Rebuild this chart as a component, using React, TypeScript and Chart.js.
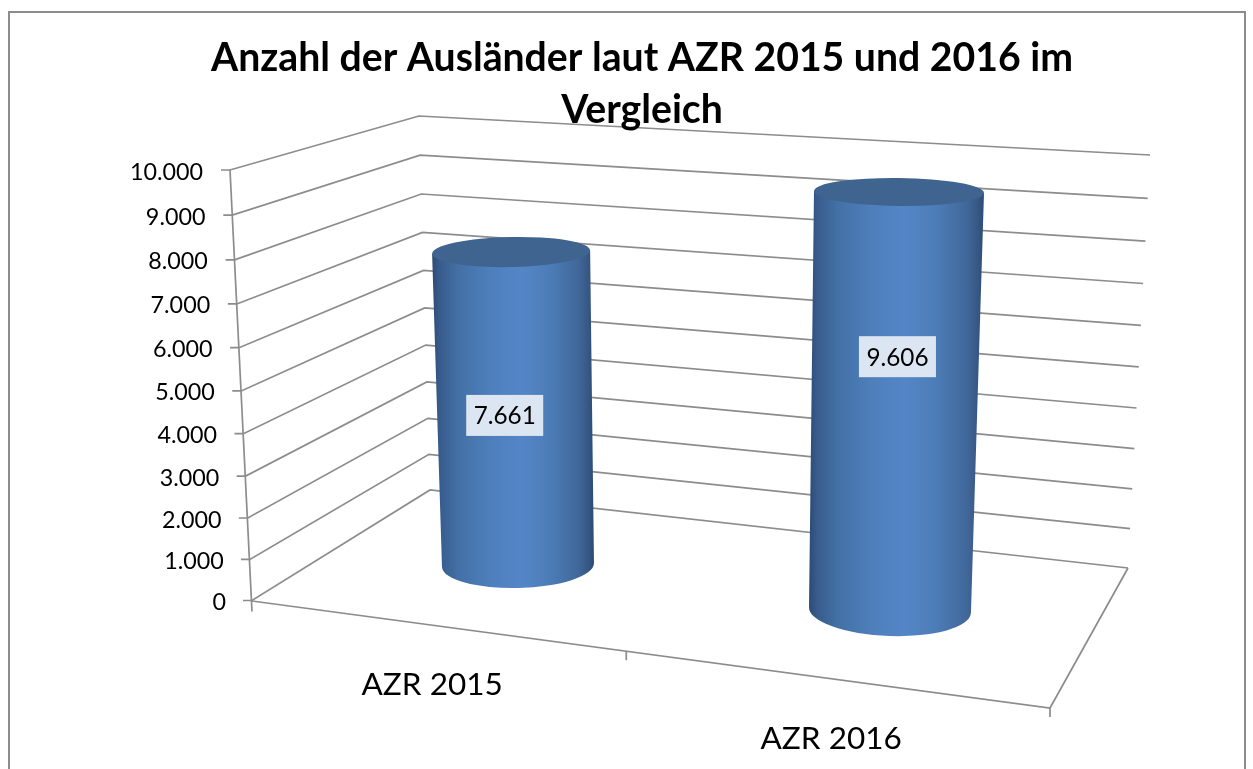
import React, { useEffect, useRef } from "react";
import { Chart, registerables } from "chart.js";

Chart.register(...registerables);

// ---- data ----
const categories = ["AZR 2015", "AZR 2016"];
const values = [7661, 9606];
const axisMax = 10000;
const axisStep = 1000;
const titleLines = ["Anzahl der Ausländer laut AZR 2015 und 2016 im", "Vergleich"];

// ---- 3D look of the box: corners of the floor and walls ----
const LINE = "#8c8c8c";
const FONT = "Lato, Carlito, sans-serif";
const WALL = {
  front: [[252, 600.5], [230, 170]],
  backLeft: [[430, 490], [419, 116]],
  backRight: [[1128, 568], [1150, 155]],
  floorFront: [[252, 601], [1050, 708]],
};
const PERSPECTIVE = -0.0514;
const FRONT_TICKS = [0, 0.469, 1];
const CYL = [
  { depthY: -35, heightK: 0.95, leanK: 0.022, rxBase: 76, rxTop: 79, ryBase: 23, ryTop: 15, tiltBase: -0.025, tiltTop: -0.02, labelFrac: 0.478, labelDx: -10 },
  { depthY: 10, heightK: 1.012, leanK: 0.0215, rxBase: 81, rxTop: 85, ryBase: 26, ryTop: 14, tiltBase: 0.035, tiltTop: 0.012, labelFrac: 0.606, labelDx: 2 },
];

const lerp = (a: number, b: number, t: number) => a + (b - a) * t;
const lerpP = (a: number[], b: number[], t: number) => [lerp(a[0], b[0], t), lerp(a[1], b[1], t)];
// the scale's linear fraction, seen through the chart's perspective
const warp = (t: number) => (t * (1 + PERSPECTIVE)) / (1 + PERSPECTIVE * t);

function seg(ctx: CanvasRenderingContext2D, pts: number[][]) {
  ctx.beginPath();
  pts.forEach((p, i) => (i ? ctx.lineTo(p[0], p[1]) : ctx.moveTo(p[0], p[1])));
  ctx.stroke();
}

const boxPlugin = {
  id: "box3d",
  beforeDraw(chart: any) {
    const { ctx, scales, width, height } = chart;
    const y = scales.y;
    ctx.save();
    ctx.fillStyle = "#ffffff";
    ctx.fillRect(0, 0, width, height);
    ctx.strokeStyle = LINE;
    ctx.lineWidth = 2;
    ctx.beginPath();
    ctx.moveTo(9, height);
    ctx.lineTo(9, 12);
    ctx.lineTo(1245, 12);
    ctx.lineTo(1245, height);
    ctx.stroke();

    ctx.lineWidth = 1.7;
    y.ticks.forEach((tick: any) => {
      const t = warp((y.getPixelForValue(tick.value) - y.bottom) / (y.top - y.bottom));
      const f = lerpP(WALL.front[0], WALL.front[1], t);
      seg(ctx, [
        [f[0] - 9, f[1]],
        f,
        lerpP(WALL.backLeft[0], WALL.backLeft[1], t),
        lerpP(WALL.backRight[0], WALL.backRight[1], t),
      ]);
    });
    // vertical axis, floor and category ticks
    seg(ctx, [WALL.front[1], [WALL.front[0][0], WALL.front[0][1] + 11]]);
    seg(ctx, [WALL.floorFront[0], WALL.floorFront[1], WALL.backRight[0]]);
    FRONT_TICKS.slice(1).forEach((u) => {
      const p = lerpP(WALL.floorFront[0], WALL.floorFront[1], u);
      seg(ctx, [p, [p[0], p[1] + 9]]);
    });
    ctx.restore();
  },
  afterDatasetsDraw(chart: any) {
    const { ctx, scales } = chart;
    const { x, y } = scales;
    const vals = chart.data.datasets[0].data as number[];
    const zero = y.getPixelForValue(0);
    ctx.save();

    vals.forEach((v, i) => {
      const c = CYL[i];
      const h = (zero - y.getPixelForValue(v)) * c.heightK;
      const bx = x.getPixelForValue(i);
      const by = zero + c.depthY;
      const tx = bx + h * c.leanK * (i === 0 ? -1 : 1);
      const ty = by - h;
      const left = Math.min(bx - c.rxBase, tx - c.rxTop);
      const right = Math.max(bx + c.rxBase, tx + c.rxTop);
      const g = ctx.createLinearGradient(left, 0, right, 0);
      g.addColorStop(0, "#2c4a72");
      g.addColorStop(0.04, "#375a8a");
      g.addColorStop(0.16, "#4370a5");
      g.addColorStop(0.36, "#4e7fbc");
      g.addColorStop(0.55, "#5486c7");
      g.addColorStop(0.72, "#4d7db8");
      g.addColorStop(0.9, "#41689b");
      g.addColorStop(0.97, "#355682");
      g.addColorStop(1, "#2c4a72");

      ctx.beginPath();
      ctx.moveTo(tx - c.rxTop, ty - c.rxTop * c.tiltTop);
      ctx.lineTo(bx - c.rxBase, by - c.rxBase * c.tiltBase);
      ctx.ellipse(bx, by, c.rxBase, c.ryBase, c.tiltBase, Math.PI, 0, true);
      ctx.lineTo(tx + c.rxTop, ty + c.rxTop * c.tiltTop);
      ctx.closePath();
      ctx.fillStyle = g;
      ctx.fill();

      ctx.beginPath();
      ctx.ellipse(tx, ty, c.rxTop, c.ryTop, c.tiltTop, 0, Math.PI * 2);
      ctx.fillStyle = "#3f648f";
      ctx.fill();

      // value label
      const label = String(v.toLocaleString("de-DE"));
      const lx = lerp(bx, tx, c.labelFrac) + c.labelDx;
      const ly = by - h * c.labelFrac;
      ctx.fillStyle = "#dce6f2";
      ctx.fillRect(lx - 38.5, ly - 20.5, 77, 41);
      ctx.fillStyle = "#000000";
      ctx.font = `24.3px ${FONT}`;
      ctx.textAlign = "center";
      ctx.textBaseline = "middle";
      ctx.fillText(label, lx, ly + 1);
    });

    // value axis labels follow the slanted axis
    ctx.fillStyle = "#000000";
    ctx.font = `23.3px ${FONT}`;
    ctx.textAlign = "right";
    ctx.textBaseline = "middle";
    y.ticks.forEach((tick: any) => {
      const t = warp((y.getPixelForValue(tick.value) - y.bottom) / (y.top - y.bottom));
      const f = lerpP(WALL.front[0], WALL.front[1], t);
      ctx.fillText(tick.label, lerp(226, 203, t), f[1] + 2);
    });

    // category labels sit under the middle of each section of the floor edge
    ctx.font = `31.5px ${FONT}`;
    ctx.textAlign = "center";
    categories.forEach((_, i) => {
      const u = (FRONT_TICKS[i] + FRONT_TICKS[i + 1]) / 2;
      const p = lerpP(WALL.floorFront[0], WALL.floorFront[1], u);
      ctx.fillText(x.getLabelForValue(i), p[0] - 7, p[1] + 59);
    });
    ctx.restore();
  },
};

export default function App() {
  const ref = useRef<HTMLCanvasElement>(null);
  useEffect(() => {
    const chart = new Chart(ref.current as HTMLCanvasElement, {
      type: "bar",
      data: {
        labels: categories,
        datasets: [{ label: "Anzahl", data: values, backgroundColor: "rgba(0,0,0,0)", borderWidth: 0 }],
      },
      options: {
        responsive: false,
        animation: false,
        layout: { padding: { left: 208, right: 177, top: 0, bottom: 169 } },
        plugins: {
          legend: { display: false },
          tooltip: { enabled: false },
          title: {
            display: true,
            text: titleLines,
            color: "#000000",
            font: { family: FONT, size: 39.2, weight: "bold", lineHeight: 52 / 39.2 },
            padding: { top: 32, bottom: 34 },
          },
        },
        scales: {
          x: { display: false },
          y: {
            min: 0,
            max: axisMax,
            grid: { display: false },
            border: { display: false },
            ticks: {
              display: false,
              stepSize: axisStep,
              callback: (v: any) => Number(v).toLocaleString("de-DE"),
            },
            afterFit: (s: any) => {
              s.width = 124;
            },
          },
        },
      },
      plugins: [boxPlugin],
    } as any);
    return () => chart.destroy();
  }, []);
  return (
    <canvas
      ref={ref}
      width={1253}
      height={769}
      style={{ position: "fixed", left: 0, top: 0, display: "block" }}
    />
  );
}
